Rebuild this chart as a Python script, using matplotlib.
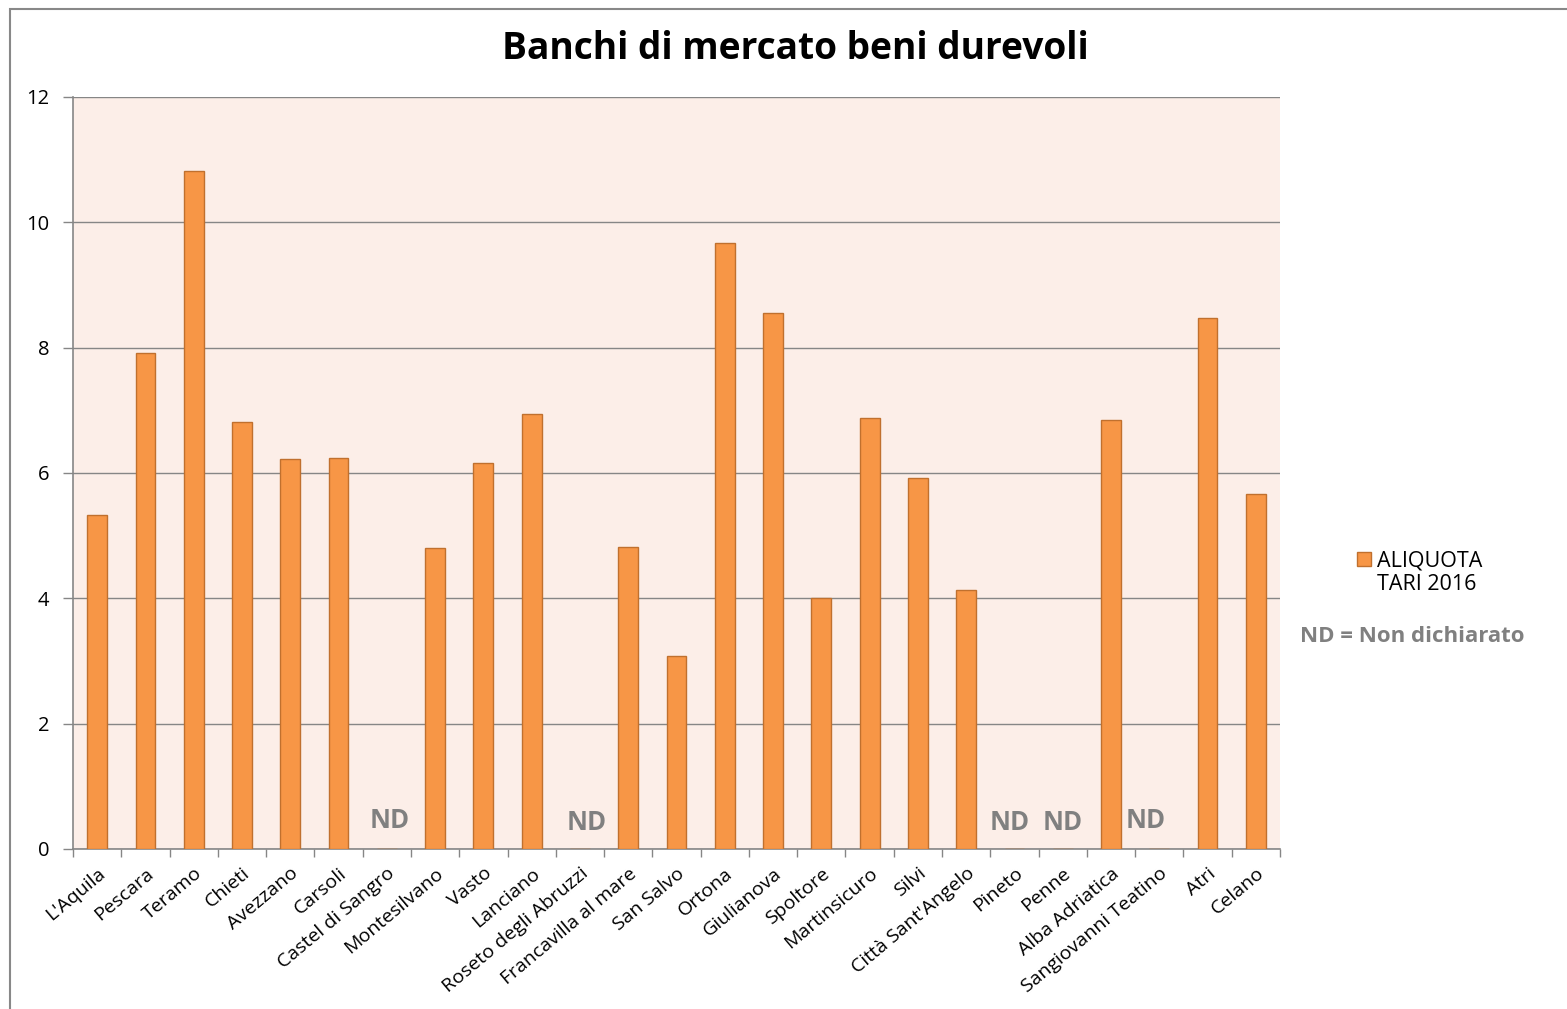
import matplotlib
matplotlib.use("Agg")
import matplotlib.pyplot as plt
from matplotlib.patches import Rectangle
import numpy as np

plt.rcParams['font.family'] = ['Open Sans', 'DejaVu Sans']

categories = ["L'Aquila", "Pescara", "Teramo", "Chieti", "Avezzano", "Carsoli",
              "Castel di Sangro", "Montesilvano", "Vasto", "Lanciano",
              "Roseto degli Abruzzi", "Francavilla al mare", "San Salvo", "Ortona",
              "Giulianova", "Spoltore", "Martinsicuro", "Silvi", "Città Sant'Angelo",
              "Pineto", "Penne", "Alba Adriatica", "Sangiovanni Teatino", "Atri", "Celano"]
values = [5.33, 7.91, 10.82, 6.81, 6.22, 6.24, 0, 4.80, 6.16, 6.94,
          0, 4.82, 3.08, 9.67, 8.55, 4.01, 6.88, 5.92, 4.13,
          0, 0, 6.85, 0, 8.47, 5.66]
nd_categories = ["Castel di Sangro", "Roseto degli Abruzzi", "Pineto", "Penne", "Sangiovanni Teatino"]
yticks = [0, 2, 4, 6, 8, 10, 12]
series_name = 'ALIQUOTA\nTARI 2016'

W, H = 1567, 1009
fig = plt.figure(figsize=(W / 100, H / 100), dpi=100)
fig.patch.set_facecolor('white')
# outer chart border
fig.add_artist(Rectangle((10 / W, -0.01), 1.02, 1 - 9 / H + 0.01, transform=fig.transFigure,
                         fill=False, edgecolor='#888888', linewidth=1.5))

ax = fig.add_axes([73 / W, 160 / H, (1280 - 73) / W, (849 - 97) / H])
ax.set_facecolor('#FCEEE8')

x = np.arange(len(categories))
ax.bar(x, values, width=0.41, color='#F79646', edgecolor='#C0702E', linewidth=1.0,
       zorder=3, label=series_name)

ax.set_xlim(-0.5, len(categories) - 0.5)
ax.set_ylim(0, 12)
ax.set_yticks(yticks)
ax.set_yticklabels([str(v) for v in yticks], fontsize=14.5)
ax.yaxis.grid(True, color='#868686', linewidth=1.0, zorder=0)
ax.set_axisbelow(True)

ax.set_xticks(x)
ax.set_xticklabels(categories, rotation=40, ha='right', rotation_mode='anchor', fontsize=14)
ax.tick_params(axis='x', which='major', length=0, pad=11)
ax.set_xticks(np.arange(-0.5, len(categories) + 0.5, 1), minor=True)
ax.tick_params(axis='x', which='minor', length=6, color='#868686', width=1)
ax.tick_params(axis='y', length=7, color='#868686', width=1, pad=10)

for s in ['top', 'right']:
    ax.spines[s].set_visible(False)
for s in ['left', 'bottom']:
    ax.spines[s].set_color('#868686')
    ax.spines[s].set_linewidth(1.2)

nd_offsets = {"Castel di Sangro": (0.06, 0.45), "Roseto degli Abruzzi": (0.15, 0.42),
              "Pineto": (-0.1, 0.42), "Penne": (0.0, 0.42), "Sangiovanni Teatino": (-0.28, 0.45)}
for name in nd_categories:
    i = categories.index(name)
    dx, y = nd_offsets[name]
    ax.text(i + dx, y, 'ND', ha='center', va='center', fontsize=18.5, fontweight='bold',
            color='#808080', zorder=4)

fig.text(795 / W, 1 - 49 / H, 'Banchi di mercato beni durevoli', ha='center', va='center',
         fontsize=26.7, fontweight='bold', color='black')

# legend (drawn by hand to match the layout)
fig.add_artist(Rectangle((1357 / W, 1 - 566 / H), 14 / W, 14 / H, transform=fig.transFigure,
                         facecolor='#F79646', edgecolor='#C0702E', linewidth=1.0))
fig.text(1377 / W, 1 - 550 / H, series_name, ha='left', va='top', fontsize=15.5,
         color='black', linespacing=1.2)

fig.text(1300 / W, 1 - 636 / H, 'ND = Non dichiarato', ha='left', va='center',
         fontsize=16, fontweight='bold', color='#808080')

fig.savefig('out.png', dpi=100)
